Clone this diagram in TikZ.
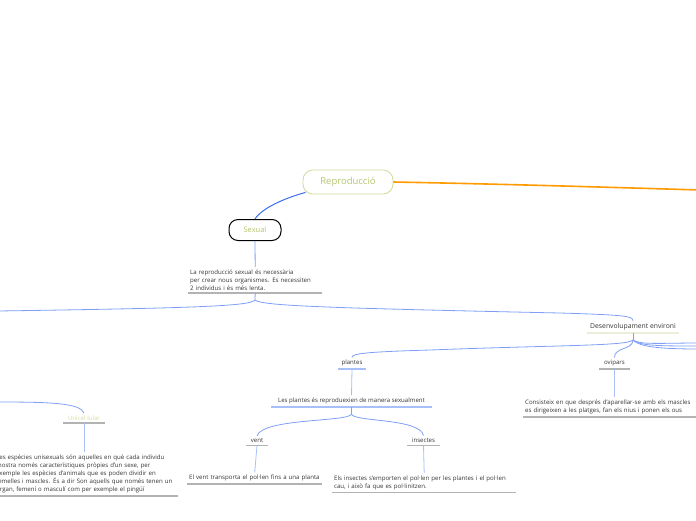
\documentclass[tikz,border=0pt]{standalone}
\usepackage{fontspec}
\setmainfont{Open Sans}
\usetikzlibrary{calc}
\definecolor{bA}{HTML}{3B6CF6}
\definecolor{bB}{HTML}{7E9EF7}
\definecolor{bC}{HTML}{A8BFF8}
\definecolor{org}{HTML}{FF9A00}
\definecolor{gbord}{HTML}{CCDB9A}
\definecolor{gtext}{HTML}{B3C56E}
\definecolor{ugray}{HTML}{B3B3B3}
\definecolor{txt}{HTML}{333333}
\definecolor{ubeige}{HTML}{ECEEDB}
\definecolor{unic}{HTML}{D5D9A2}
\tikzset{
 lab/.style={font=\fontsize{6.1}{8}\selectfont, text=txt, inner xsep=2pt, inner ysep=2.5pt, anchor=south},
 blk/.style={lab, align=left, anchor=south west},
 ul/.style={line width=1.4pt, ugray},
 ulb/.style={line width=1.4pt, bC},
 br/.style={bB, line width=0.8pt},
 st/.style={bC, line width=0.8pt},
}
\begin{document}
\begin{tikzpicture}[x=1pt,y=-1pt]
\useasboundingbox (0,0) rectangle (696,520);
\clip (0,0) rectangle (696,520);
% coordinates
\coordinate (R1) at (700,190);
\coordinate (L1) at (-2,311);
\coordinate (j1) at (255,300);
\coordinate (j2) at (633,340);
\coordinate (j3) at (351.5,414);
\coordinate (R2) at (700,343);
\coordinate (R3) at (700,346);
\coordinate (R4) at (700,349);
\coordinate (L2) at (-2,402);
% nodes
\node[draw=gbord, line width=0.8pt, rounded corners=10pt, minimum width=90pt, minimum height=24pt, text=gtext, font=\fontsize{9.5}{11}\selectfont] (repro) at (348,182) {Reproducció};
\node[draw=black, line width=1pt, rounded corners=9pt, minimum width=52pt, minimum height=21pt, text=gtext, font=\fontsize{7.5}{9}\selectfont] (sexual) at (255,230) {Sexual};
\node[blk, text width=130pt] (sextext) at (188,293) {La reproducció sexual és necessària\\per crear nous organismes. Es necessiten\\2 individus i és més lenta.};
\node[lab, minimum width=92pt, font=\fontsize{6.8}{8}\selectfont] (desenv) at (633,333) {Desenvolupament environi};
\node[lab, minimum width=28pt] (plantes) at (352,369) {plantes};
\node[lab, minimum width=161pt] (lesplantes) at (351.5,407) {Les plantes és reproduexien de manera sexualment};
\node[lab, minimum width=22pt] (vent) at (257,445.5) {vent};
\node[blk, text width=131pt] (venttext) at (187,484) {El vent transporta el pol·len fins a una planta};
\node[lab, minimum width=33pt] (insectes) at (423.5,445.5) {insectes};
\node[blk, text width=180pt] (instext) at (332,492.5) {Els insectes s'emporten el pol·len per les plantes i el pol·len\\cau, i això fa que es pol·linitzen.};
\node[lab, minimum width=31pt] (ovipars) at (614.5,369) {ovipars};
\node[blk, text width=210pt] (ovitext) at (523,417) {Consisteix en que després d'aparellar-se amb els mascles\\es dirigeixen a les platges, fan els nius i ponen els ous};
\node[lab, minimum width=42pt, text=unic] (unicel) at (84,423) {Unicel·lular};
\node[blk, text width=180pt] (unitext) at (-6,496) {Les espècies unisexuals són aquelles en què cada individu\\mostra només característiques pròpies d'un sexe, per\\exemple les espècies d'animals que es poden dividir en\\femelles i mascles. És a dir Son aquells que només tenen un\\òrgan, femení o masculí com per exemple el pingüí};
% underlines
\draw[ul] (sextext.south west) -- (sextext.south east);
\draw[line width=1.4pt, ubeige] (desenv.south west) -- (desenv.south east);
\draw[ulb] (plantes.south west) -- (plantes.south east);
\draw[ulb] (lesplantes.south west) -- (lesplantes.south east);
\draw[ul] (vent.south west) -- (vent.south east);
\draw[ul] (venttext.south west) -- (venttext.south east);
\draw[ul] (insectes.south west) -- (insectes.south east);
\draw[ul] (instext.south west) -- (instext.south east);
\draw[ul] (ovipars.south west) -- (ovipars.south east);
\draw[ul] (ovitext.south west) -- (ovitext.south east);
\draw[ul] (unicel.south west) -- (unicel.south east);
\draw[ul] (unitext.south west) -- (unitext.south east);
% connectors
\draw[org, line width=1.6pt] (repro.east) .. controls (500,184) and (600,187) .. (R1);
\draw[bA, line width=1pt] ([xshift=3pt, yshift=2pt]repro.south west) .. controls (285,198) and (262,208) .. (sexual.north);
\draw[br] (sexual.south) -- (sextext.north);
\draw[br] (sextext.south) -- (j1);
\draw[br] (j1) .. controls (250,306) and (200,308) .. (L1);
\draw[br] (j1) .. controls (262,306) and (330,308) .. (560,313) .. controls (625,315) and (633,316) .. (desenv.north);
\draw[br] (desenv.south) -- (j2);
\draw[br] (j2) .. controls (628,346) and (560,345) .. (430,350) .. controls (360,352) and (352,354) .. (plantes.north);
\draw[br] (j2) .. controls (633,350) and (614,347) .. (ovipars.north);
\draw[br] (j2) .. controls (640,345) and (660,343) .. (R2);
\draw[br] (j2) .. controls (640,346) and (660,346) .. (R3);
\draw[br] (j2) .. controls (640,347) and (660,349) .. (R4);
\draw[st] (plantes.south) -- (lesplantes.north);
\draw[br] (lesplantes.south) -- (j3);
\draw[br] (j3) .. controls (350,422) and (262,418) .. (vent.north);
\draw[br] (j3) .. controls (353,422) and (420,418) .. (insectes.north);
\draw[st] (vent.south) -- (venttext.north);
\draw[st] (insectes.south) -- (instext.north);
\draw[st] (ovipars.south) -- (ovipars.south |- ovitext.north);
\draw[br] (L2) .. controls (50,402) and (80,403) .. (unicel.north);
\draw[st] (unicel.south) -- (unicel.south |- unitext.north);
\end{tikzpicture}
\end{document}
